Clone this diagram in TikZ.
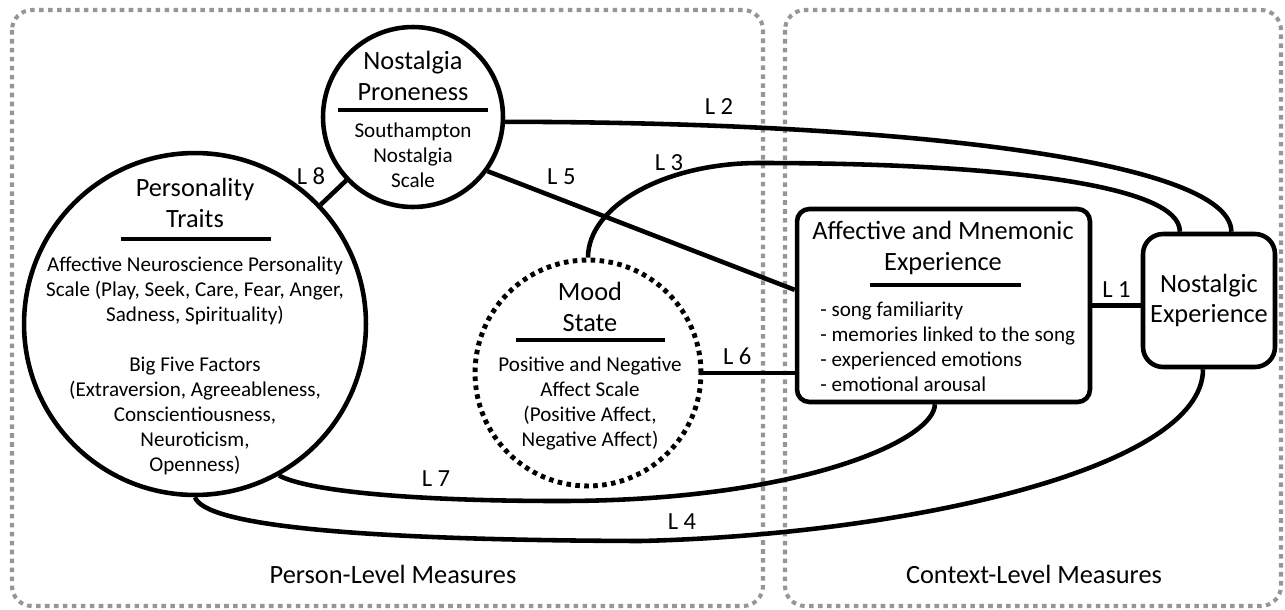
\documentclass[tikz,border=0pt]{standalone}
\usepackage{fontspec}
\setmainfont{Carlito}
\usepackage{tikz}
\definecolor{boxgray}{RGB}{150,150,150}

\begin{document}
\begin{tikzpicture}[x=0.02cm,y=-0.02cm,
  conn/.style={line width=2.6pt},
  measure/.style={draw, line width=2.6pt, inner sep=0pt},
  ttl/.style={align=center, font=\fontsize{15}{17.5}\selectfont, inner sep=0pt},
  txt/.style={align=center, font=\fontsize{12}{14.2}\selectfont, inner sep=0pt},
  lbl/.style={font=\fontsize{14}{16}\selectfont},
  bar/.style={line width=2.8pt},
  level/.style={draw=boxgray, line width=2.3pt, dash pattern=on 2.6pt off 2.5pt, rounded corners=0.4cm}]
\useasboundingbox (0,0) rectangle (1285,609);
                      \draw[level] (12,10) rectangle (763,606);
                      \draw[level] (785,10) rectangle (1281,606);
                      \node[ttl] (person) at (393,574) {Person-Level Measures};
                      \node[ttl] (context) at (1034,574) {Context-Level Measures};
                      \node[measure, circle, minimum size=6.84cm] (traits) at (195,324) {};
                      \node[ttl] (traitsttl) at (195,203) {Personality\\Traits};
                      \draw[bar] (121,239) -- (271,239);
                      \node[txt] (traitstxt) at (195,366) {Affective Neuroscience Personality\\Scale (Play, Seek, Care, Fear, Anger,\\Sadness, Spirituality)\\[14.2pt]Big Five Factors\\(Extraversion, Agreeableness,\\Conscientiousness,\\Neuroticism,\\Openness)};
                      \node[measure, circle, minimum size=3.6cm] (prone) at (413,117) {};
                      \node[ttl] (pronettl) at (413,76) {Nostalgia\\Proneness};
                      \draw[bar] (338,110) -- (488,110);
                      \node[txt] (pronetxt) at (413,155) {Southampton\\Nostalgia\\Scale};
                      \node[measure, circle, line width=2.8pt, dash pattern=on 2.6pt off 2.5pt, minimum size=4.52cm] (mood) at (588,373) {};
                      \node[ttl] (moodttl) at (590,307) {Mood\\State};
                      \draw[bar] (516,340) -- (665,340);
                      \node[txt] (moodtxt) at (590,403.5) {Positive and Negative\\Affect Scale\\(Positive Affect,\\Negative Affect)};
                      \node[measure, rounded corners=7pt, minimum width=5.86cm, minimum height=3.86cm] (affect) at (943.5,305.5) {};
                      \node[ttl] (affectttl) at (943,248) {Affective and Mnemonic\\Experience};
                      \draw[bar] (870,285) -- (1021,285);
                      \node[txt, align=left, anchor=west] (affecttxt) at (820,346.5) {- song familiarity\\- memories linked to the song\\- experienced emotions\\- emotional arousal};
                      \node[measure, ttl, rounded corners=0.4cm, minimum width=2.64cm, minimum height=2.66cm] (nostalg) at (1209,300.5) {Nostalgic\\Experience};
                      \draw[conn] (affect.east) -- (affect.east -| nostalg.west) node[lbl, midway, above] (l1) {L 1};
                      \draw[conn] (prone.-3) .. controls (900,122) and (1231,160) .. (nostalg.72);
                      \node[lbl] (l2) at (719,107) {L 2};
                      \draw[conn] (mood.north) .. controls (588,206) and (665,163) .. (759,163) .. controls (1000,163) and (1181,185) .. (nostalg.113);
                      \node[lbl] (l3) at (669,163) {L 3};
                      \draw[conn] (traits.south) .. controls (205,525) and (350,540) .. (640,541) .. controls (900,535) and (1203,470) .. (nostalg.-95);
                      \node[lbl] (l4) at (682,522) {L 4};
                      \draw[conn] (prone.-36) -- (affect.174) node[lbl, pos=0.24, above=4pt] (l5) {L 5};
                      \draw[conn] (mood.east) -- (mood.east -| affect.west) node[lbl, pos=0.37, above] (l6) {L 6};
                      \draw[conn] (traits.-61) .. controls (310,492) and (420,501) .. (560,501) .. controls (800,501) and (935,440) .. (affect.-95);
                      \node[lbl] (l7) at (436,479) {L 7};
                      \draw[conn] (traits) -- (prone) node[lbl, midway, above left] (l8) {L 8};
\end{tikzpicture}
\end{document}
